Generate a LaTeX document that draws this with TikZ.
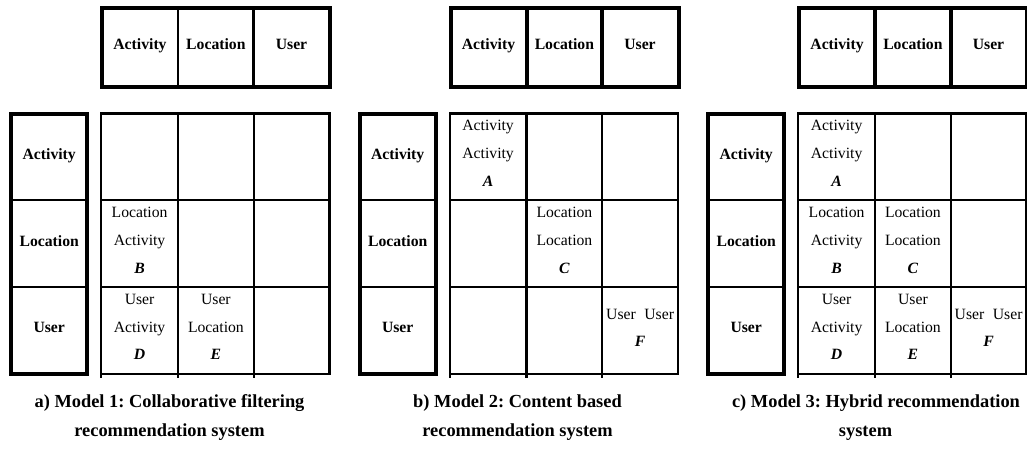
\documentclass[tikz,border=0pt]{standalone}
\usepackage{fontspec}
\setmainfont{Liberation Serif}
\frenchspacing
\tikzset{
  thickline/.style={line width=4pt, line join=miter},
  thinline/.style={line width=2.3pt},
  hdr/.style={font=\fontsize{15.7}{18}\selectfont\bfseries, anchor=base, inner sep=0pt},
  celltxt/.style={font=\fontsize{15.7}{18}\selectfont, anchor=base, inner sep=0pt},
  letter/.style={font=\fontsize{15.7}{18}\selectfont\bfseries\itshape, anchor=base, inner sep=0pt},
  captxt/.style={font=\fontsize{18.4}{22}\selectfont\bfseries, anchor=base, inner sep=0pt},
}
\newcommand\mkcellthree[6]{%
  \node[celltxt] (#1a) at (#2,#3) {#4};
  \node[celltxt] (#1b) at (#2,#3+27.7) {#5};
  \node[letter] (#1c) at (#2,#3+55.4) {#6};}
\newcommand\mkcellF[1]{%
  \node[celltxt] (#1a) at (291.6,319.3) {User\hspace{8.5pt}User};
  \node[letter] (#1b) at (291.6,346.9) {F};}
\begin{document}
\begin{tikzpicture}[x=1pt,y=-1pt]
\useasboundingbox (0,0) rectangle (1027,448);
\fill[white] (0,0) rectangle (1027,448);
\foreach \p/\dx/\hw in {a/0/2.7, b/348.5/4, c/697/4}{
  \begin{scope}[xshift=\dx pt]
    % header
    \draw[thickline] (102,8) rectangle (330,86.5);
    \draw[line width=\hw pt] (178,8) -- (178,86.5);
    \draw[line width=\hw pt] (253.7,8) -- (253.7,86.5);
    \node[hdr] (\p-h1) at (140,49.6) {Activity};
    \node[hdr] (\p-h2) at (215.9,49.6) {Location};
    \node[hdr] (\p-h3) at (291.5,49.6) {User};
    % row labels
    \draw[thickline] (11.3,114) rectangle (87,373.7);
    \draw[thinline] (11.3,200.2) -- (87,200.2);
    \draw[thinline] (11.3,287) -- (87,287);
    \node[hdr] (\p-r1) at (49.2,159.3) {Activity};
    \node[hdr] (\p-r2) at (49.2,246) {Location};
    \node[hdr] (\p-r3) at (49.2,332.8) {User};
    % grid
    \draw[thinline] (101.2,113.5) -- (329.5,113.5);
    \draw[thinline] (101.2,200.2) -- (329.5,200.2);
    \draw[thinline] (101.2,287) -- (329.5,287);
    \draw[thinline] (101.2,373.8) -- (329.5,373.8);
    \draw[thinline] (101.2,112.4) -- (101.2,377.5);
    \draw[thinline] (178,112.4) -- (178,377.5);
    \draw[thinline] (253.7,112.4) -- (253.7,377.5);
    \draw[thinline] (329.5,112.4) -- (329.5,374.9);
  \end{scope}
}
% panel a contents
\mkcellthree{aB}{139.6}{217.6}{Location}{Activity}{B}
\mkcellthree{aD}{139.6}{304.4}{User}{Activity}{D}
\mkcellthree{aE}{215.9}{304.4}{User}{Location}{E}
% panel b contents
\begin{scope}[xshift=348.5pt]
\mkcellthree{bA}{139.6}{130.9}{Activity}{Activity}{A}
\mkcellthree{bC}{215.9}{217.6}{Location}{Location}{C}
\mkcellF{bF}
\end{scope}
% panel c contents
\begin{scope}[xshift=697pt]
\mkcellthree{cA}{139.6}{130.9}{Activity}{Activity}{A}
\mkcellthree{cB}{139.6}{217.6}{Location}{Activity}{B}
\mkcellthree{cC}{215.9}{217.6}{Location}{Location}{C}
\mkcellthree{cD}{139.6}{304.4}{User}{Activity}{D}
\mkcellthree{cE}{215.9}{304.4}{User}{Location}{E}
\mkcellF{cF}
\end{scope}
% captions
\node[captxt] (capa1) at (169.5,407.3) {a) Model 1: Collaborative filtering};
\node[captxt] (capa2) at (169.5,436.7) {recommendation system};
\node[captxt] (capb1) at (517.5,407.3) {b) Model 2: Content based};
\node[captxt] (capb2) at (517.5,436.7) {recommendation system};
\node[captxt] (capc1) at (876,407.3) {c) Model 3: Hybrid recommendation};
\node[captxt] (capc2) at (865.5,436.7) {system};
\end{tikzpicture}
\end{document}
